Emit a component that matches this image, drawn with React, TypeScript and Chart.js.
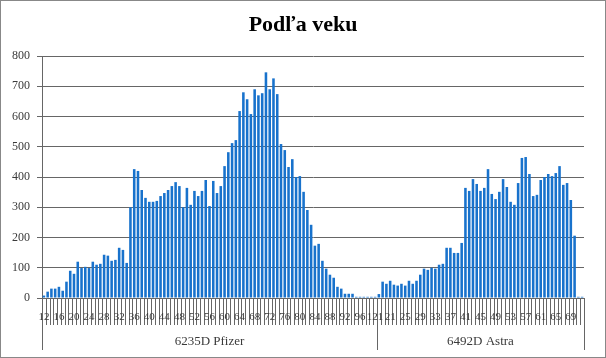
import { useEffect, useRef } from 'react';
import { Chart, registerables } from 'chart.js';

Chart.register(...registerables);

const chartTitle = 'Podľa veku';
const groupNames = ['6235D Pfizer', '6492D Astra'];

const pfizerAges = [
  '12', '13', '14', '15', '16', '17', '18', '19', '20', '21', '22', '23', '24', '25', '26', '27', '28', '29',
  '30', '31', '32', '33', '34', '35', '36', '37', '38', '39', '40', '41', '42', '43', '44', '45', '46', '47',
  '48', '49', '50', '51', '52', '53', '54', '55', '56', '57', '58', '59', '60', '61', '62', '63', '64', '65',
  '66', '67', '68', '69', '70', '71', '72', '73', '74', '75', '76', '77', '78', '79', '80', '81', '82', '83',
  '84', '85', '86', '87', '88', '89', '90', '91', '92', '93', '94', '95', '96', '97', '98', '99', '121',
];
const pfizerValues = [
  8, 21, 31, 31, 37, 24, 54, 90, 80, 120, 99, 103, 99, 120, 110, 113, 143, 140,
  123, 126, 166, 159, 116, 300, 426, 420, 357, 331, 318, 318, 321, 337, 347, 357, 370, 383,
  370, 300, 364, 308, 354, 337, 354, 390, 304, 387, 347, 370, 436, 482, 512, 522, 618, 680,
  657, 608, 690, 670, 677, 746, 690, 726, 674, 509, 489, 433, 459, 400, 403, 351, 291, 242,
  173, 179, 123, 97, 77, 67, 37, 31, 14, 14, 14, 4, 4, 4, 4, 4, 4,
];

const astraAges = [
  '18', '19', '20', '21', '22', '23', '24', '25', '26', '27', '28', '29', '30', '31', '32', '33', '34', '35',
  '36', '37', '38', '39', '40', '41', '42', '43', '44', '45', '46', '47', '48', '49', '50', '51', '52', '53',
  '54', '55', '56', '57', '58', '59', '60', '61', '62', '63', '64', '65', '66', '67', '68', '69', '70', '71', '72',
];
const astraValues = [
  13, 54, 47, 57, 44, 41, 47, 41, 57, 47, 57, 77, 97, 93, 100, 97, 110, 113,
  166, 166, 149, 149, 182, 364, 354, 393, 377, 354, 364, 426, 344, 327, 351, 393, 367, 318,
  308, 380, 463, 466, 410, 337, 341, 390, 400, 410, 403, 413, 436, 374, 380, 324, 206, 4, 4,
];

const yMin = 0;
const yMax = 800;
const yStep = 100;

const labels = [...pfizerAges, ...astraAges];
const values = [...pfizerValues, ...astraValues];
const groupSizes = [pfizerAges.length, astraAges.length];

const SERIF = '"Liberation Serif", "DejaVu Serif", serif';
const LINE = '#666666';

const multiLevelAxis = {
  id: 'multiLevelAxis',
  afterDraw(chart: any) {
    const ctx = chart.ctx;
    const xs = chart.scales.x;
    const area = chart.chartArea;
    const n = labels.length;
    const step = xs.getPixelForValue(1) - xs.getPixelForValue(0);
    const bottom = area.bottom;
    ctx.save();
    // title
    ctx.fillStyle = '#000';
    ctx.font = `bold 22px ${SERIF}`;
    ctx.textAlign = 'center';
    ctx.textBaseline = 'middle';
    ctx.fillText(chartTitle, chart.width / 2, 25);

    // category ticks
    ctx.strokeStyle = LINE;
    ctx.lineWidth = 1;
    const groupEdges = new Set<number>();
    let acc = 0;
    groupEdges.add(0);
    for (const g of groupSizes) {
      acc += g;
      groupEdges.add(acc);
    }
    for (let i = 0; i <= n; i++) {
      const px = Math.round(xs.getPixelForValue(i) - step / 2) + 0.5;
      const len = groupEdges.has(i) ? 52 : 27;
      ctx.beginPath();
      ctx.moveTo(px, bottom);
      ctx.lineTo(px, bottom + len);
      ctx.stroke();
    }
    // axis line
    ctx.beginPath();
    ctx.moveTo(area.left, Math.round(bottom) + 0.5);
    ctx.lineTo(area.right, Math.round(bottom) + 0.5);
    ctx.stroke();

    // category labels every 4th
    ctx.fillStyle = '#3a3a3a';
    ctx.font = `11px ${SERIF}`;
    ctx.textAlign = 'center';
    ctx.textBaseline = 'middle';
    for (let i = 0; i < n; i += 4) {
      ctx.fillText(labels[i], xs.getPixelForValue(i), bottom + 19);
    }
    // group labels
    ctx.font = `13px ${SERIF}`;
    let start = 0;
    groupSizes.forEach((g, gi) => {
      const x0 = xs.getPixelForValue(start) - step / 2;
      const x1 = xs.getPixelForValue(start + g - 1) + step / 2;
      ctx.fillText(groupNames[gi], (x0 + x1) / 2, bottom + 44);
      start += g;
    });

    // outer border
    ctx.strokeStyle = '#888888';
    ctx.strokeRect(0.5, 0.5, chart.width - 1, chart.height - 1);
    ctx.restore();
  },
};

export default function App() {
  const ref = useRef<HTMLCanvasElement | null>(null);
  useEffect(() => {
    document.body.style.margin = '0';
    const canvas = ref.current;
    if (!canvas) return;
    const chart = new Chart(canvas, {
      type: 'bar',
      data: {
        labels,
        datasets: [
          {
            data: values,
            backgroundColor: '#1872cc',
            borderWidth: 0,
            barPercentage: 0.68,
            categoryPercentage: 1,
          },
        ],
      },
      options: {
        responsive: false,
        animation: false,
        events: [],
        layout: { padding: { top: 56, right: 22, bottom: 60, left: 0 } },
        plugins: {
          legend: { display: false },
          title: { display: false },
          tooltip: { enabled: false },
        },
        scales: {
          x: { display: false, offset: true },
          y: {
            min: yMin,
            max: yMax,
            afterFit: (s: any) => {
              s.width = 42;
            },
            ticks: {
              stepSize: yStep,
              padding: 7,
              color: '#3a3a3a',
              font: { family: SERIF, size: 12 },
            },
            grid: { color: LINE, tickLength: 5, lineWidth: 1 },
            border: { display: true, color: LINE },
          },
        },
      },
      plugins: [multiLevelAxis],
    });
    return () => chart.destroy();
  }, []);
  return <canvas ref={ref} width={606} height={358} style={{ display: 'block' }} />;
}
